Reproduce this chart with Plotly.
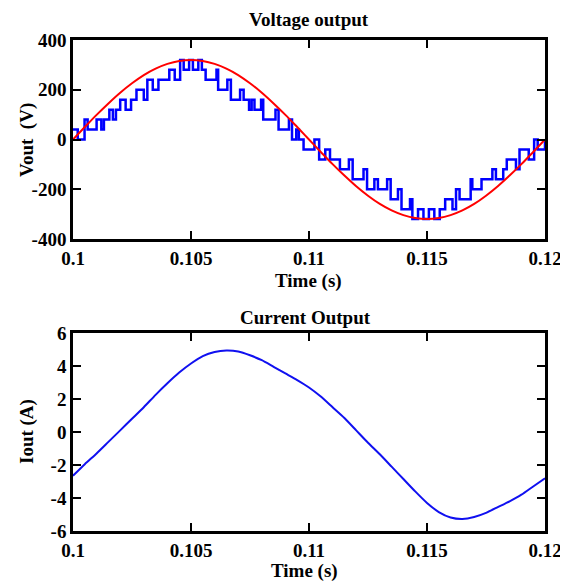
import plotly.graph_objects as go

# ---------------- data ----------------
# reference sine (red), sampled every 0.5 ms
t_ref = [0.1 + 0.0005 * k for k in range(41)]
v_ref = [0, 50, 99, 145, 188, 226, 259, 285, 304, 316, 320,
         316, 304, 285, 259, 226, 188, 145, 99, 50, 0,
         -50, -99, -145, -188, -226, -259, -285, -304, -316, -320,
         -316, -304, -285, -259, -226, -188, -145, -99, -50, 0]

# multilevel inverter output (blue): switching instants (ms after 0.1 s) and levels (V)
sw_ms = [0.00, 0.20, 0.49, 0.62, 1.00, 1.20, 1.31, 1.54, 1.69, 1.82,
         2.00, 2.23, 2.46, 2.69, 3.00, 3.15, 3.38, 3.62, 4.08, 4.31,
         4.54, 4.69, 4.92, 5.08, 5.31, 5.46, 5.62, 6.08, 6.15, 6.54,
         6.69, 7.08, 7.23, 7.46, 7.57, 7.69, 7.97, 8.06, 8.58, 8.71,
         9.15, 9.28, 9.46, 9.57, 9.77, 10.23, 10.43, 10.69, 10.89, 11.31,
         11.69, 11.85, 12.31, 12.46, 12.77, 12.92, 13.31, 13.46, 13.77, 13.92,
         14.28, 14.38, 14.62, 14.85, 15.08, 15.31, 15.54, 15.77, 16.08, 16.23,
         16.38, 16.85, 16.92, 17.31, 17.77, 17.92, 18.23, 18.38, 18.77, 18.92,
         19.31, 19.54, 19.69, 20.00]
sw_v = [40, 0, 80, 40, 80, 40, 80, 120, 80, 120,
        160, 120, 160, 200, 160, 240, 200, 240, 280, 240,
        320, 280, 320, 280, 320, 280, 240, 280, 200, 240,
        160, 200, 160, 120, 160, 120, 160, 80, 120, 40,
        80, 0, 40, 0, -40, 0, -80, -40, -80, -120,
        -80, -160, -120, -200, -160, -200, -160, -240, -200, -280,
        -240, -320, -280, -320, -280, -320, -280, -240, -280, -200,
        -240, -160, -200, -160, -120, -160, -120, -80, -120, -40,
        -80, 0, -40, 0]

# output current (blue), sampled every 0.5 ms
t_cur = [0.1 + 0.0005 * k for k in range(41)]
i_cur = [-2.65, -1.95, -1.3, -0.6, 0.1, 0.8, 1.5, 2.25, 2.95, 3.6,
         4.15, 4.6, 4.85, 4.94, 4.88, 4.65, 4.35, 3.95, 3.55, 3.15,
         2.7, 2.15, 1.5, 0.85, 0.1, -0.65, -1.35, -2.1, -2.85, -3.6,
         -4.3, -4.85, -5.18, -5.27, -5.15, -4.9, -4.55, -4.2, -3.8, -3.3, -2.8]

x_ticks = [0.1, 0.105, 0.11, 0.115, 0.12]
x_tick_text = ["<b>0.1</b>", "<b>0.105</b>", "<b>0.11</b>", "<b>0.115</b>", "<b>0.12</b>"]
v_ticks = [-400, -200, 0, 200, 400]
v_tick_text = ["<b>-400</b>", "<b>-200</b>", "<b>0</b>", "<b>200</b>", "<b>400</b>"]
i_ticks = [-6, -4, -2, 0, 2, 4, 6]
i_tick_text = ["<b>-6</b>", "<b>-4</b>", "<b>-2</b>", "<b>0</b>", "<b>2</b>", "<b>4</b>", "<b>6</b>"]

# ---------------- figure ----------------
OFF = 8  # page body margin
W, H = 568 - OFF, 581 - OFF
FONT = "Liberation Serif"

t_sw = [0.1 + m / 1000.0 for m in sw_ms]

fig = go.Figure()
fig.add_trace(go.Scatter(x=t_sw, y=sw_v, mode="lines", line=dict(color="#0000FF", width=2.5, shape="hv"),
                         xaxis="x", yaxis="y", showlegend=False))
fig.add_trace(go.Scatter(x=t_ref, y=v_ref, mode="lines", line=dict(color="#FF0000", width=2, shape="spline"),
                         xaxis="x", yaxis="y", showlegend=False))
fig.add_trace(go.Scatter(x=t_cur, y=i_cur, mode="lines", line=dict(color="#1010F0", width=2, shape="spline", smoothing=0.6),
                         xaxis="x2", yaxis="y2", showlegend=False))

def px_x(p):
    return (p - OFF) / W

def px_y(p):
    return 1 - (p - OFF) / H

axis_common = dict(showline=True, linecolor="black", linewidth=2.5, mirror="ticks",
                   ticks="inside", ticklen=8, tickwidth=1.5, tickcolor="black",
                   showgrid=False, zeroline=False, automargin=False,
                   tickfont=dict(family=FONT, size=19, color="black"))

fig.update_layout(
    width=W, height=H,
    margin=dict(l=0, r=0, t=0, b=0, autoexpand=False),
    paper_bgcolor="white", plot_bgcolor="white",
    xaxis=dict(domain=[px_x(73), px_x(545)], range=[0.1, 0.12], tickvals=x_ticks, ticktext=x_tick_text,
               anchor="y", ticklabelstandoff=0, **axis_common),
    yaxis=dict(domain=[px_y(239), px_y(40)], range=[-400, 400], tickvals=v_ticks, ticktext=v_tick_text,
               anchor="x", **axis_common),
    xaxis2=dict(domain=[px_x(73), px_x(545)], range=[0.1, 0.12], tickvals=x_ticks, ticktext=x_tick_text,
                anchor="y2", ticklabelstandoff=0, **axis_common),
    yaxis2=dict(domain=[px_y(531), px_y(333)], range=[-6, 6], tickvals=i_ticks, ticktext=i_tick_text,
                anchor="x2", **axis_common),
)

def ann(text, x, y, angle=0, size=19):
    fig.add_annotation(text="<b>%s</b>" % text, x=px_x(x), y=px_y(y), xref="paper", yref="paper",
                       showarrow=False, textangle=angle, font=dict(family=FONT, size=size, color="black"),
                       xanchor="center", yanchor="middle")

ann("Voltage output", 309, 19)
ann("Time (s)", 308, 281)
ann("Vout&nbsp;&nbsp;(V)", 27, 140, angle=-90)
ann("Current Output", 305, 317)
ann("Time (s)", 304, 571)
ann("Iout (A)", 27, 432, angle=-90)

fig.write_html("out.html")
